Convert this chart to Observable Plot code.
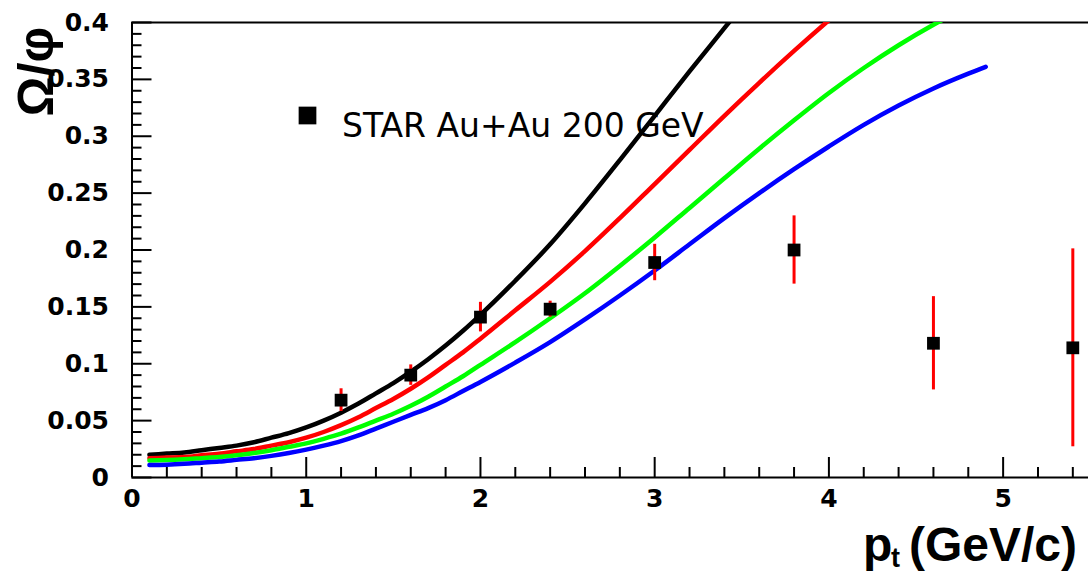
<!DOCTYPE html>
<html><head><meta charset="utf-8">
<script src="https://cdn.jsdelivr.net/npm/d3@7"></script>
<script src="https://cdn.jsdelivr.net/npm/@observablehq/plot@0.6"></script>
<style>html,body{margin:0;padding:0;background:#fff;} #chart{width:1088px;height:574px;}</style>
</head><body><div id="chart"></div>
<script>
// ---- data ----
const curvePt = [0.1,0.2,0.3,0.4,0.5,0.6,0.7,0.8,0.9,1.0,1.1,1.2,1.3,1.4,1.5,1.6,1.7,1.8,1.9,2.0,2.2,2.4,2.6,2.8,3.0,3.2,3.4,3.6,3.8,4.0,4.2,4.4,4.6,4.8,4.9];
const curveBlack = [0.020,0.021,0.022,0.024,0.026,0.028,0.031,0.035,0.039,0.044,0.050,0.057,0.065,0.074,0.083,0.093,0.104,0.116,0.129,0.143,0.173,0.205,0.241,0.279,0.318,0.357,0.395,0.433];
const curveRed   = [0.017,0.0175,0.018,0.0195,0.021,0.023,0.025,0.028,0.031,0.035,0.040,0.046,0.053,0.061,0.069,0.078,0.088,0.099,0.110,0.122,0.147,0.172,0.199,0.228,0.258,0.288,0.318,0.347,0.375,0.402,0.428];
const curveGreen = [0.015,0.0153,0.016,0.017,0.018,0.0195,0.0215,0.024,0.027,0.030,0.034,0.0385,0.044,0.050,0.056,0.063,0.071,0.080,0.089,0.099,0.119,0.140,0.162,0.186,0.211,0.237,0.263,0.289,0.314,0.338,0.360,0.380,0.398,0.414];
const curveBlue  = [0.011,0.0113,0.012,0.013,0.014,0.0155,0.017,0.019,0.0215,0.0245,0.028,0.032,0.037,0.043,0.049,0.055,0.061,0.068,0.076,0.084,0.101,0.119,0.139,0.160,0.182,0.205,0.228,0.250,0.271,0.291,0.310,0.327,0.342,0.355,0.361];

const starPt    = [1.2, 1.6, 2.0, 2.4, 3.0, 3.8, 4.6, 5.4];
const starRatio = [0.068, 0.090, 0.141, 0.148, 0.189, 0.200, 0.118, 0.114];
const starErr   = [0.010, 0.009, 0.013, 0.007, 0.016, 0.030, 0.041, 0.087];

const xTicks = [0, 1, 2, 3, 4, 5];
const xMinor = [0.2,0.4,0.6,0.8,1.2,1.4,1.6,1.8,2.2,2.4,2.6,2.8,3.2,3.4,3.6,3.8,4.2,4.4,4.6,4.8,5.2,5.4];
const yTicks = [0, 0.05, 0.1, 0.15, 0.2, 0.25, 0.3, 0.35, 0.4];
const yMinor = [0.01,0.02,0.03,0.04,0.06,0.07,0.08,0.09,0.11,0.12,0.13,0.14,0.16,0.17,0.18,0.19,0.21,0.22,0.23,0.24,0.26,0.27,0.28,0.29,0.31,0.32,0.33,0.34,0.36,0.37,0.38,0.39];

const legendLabel = "STAR Au+Au 200 GeV";
const yLabel = "Ω/φ";
const xLabelMain = "p";
const xLabelSub = "t";
const xLabelUnit = "(GeV/c)";

// ---- build tables ----
function curve(vals, name){ return vals.map((v,i)=>({pt: curvePt[i], v, name})); }
const curves = [
  {data: curve(curveBlack,"black"), color: "#000000"},
  {data: curve(curveRed,"red"), color: "#ff0000"},
  {data: curve(curveGreen,"green"), color: "#00ff00"},
  {data: curve(curveBlue,"blue"), color: "#0000ff"}
];
const star = starPt.map((pt,i)=>({pt, r: starRatio[i], lo: starRatio[i]-starErr[i], hi: starRatio[i]+starErr[i]}));

const width = 1088, height = 574;
const mL = 131.5, mR = 0, mT = 22, mB = 97;
const W = width - mL - mR, H = height - mT - mB;
const tickFont = "DejaVu Sans, sans-serif";
const titleFont = "Liberation Sans, Arial, sans-serif";

const plot = Plot.plot({
  width, height,
  marginLeft: mL, marginRight: mR, marginTop: mT, marginBottom: mB,
  style: {background: "white", color: "black"},
  x: {domain: [0, 5.49]},
  y: {domain: [0, 0.4]},
  marks: [
    Plot.ruleY([0.4], {stroke: "black", strokeWidth: 2}),
    Plot.tickY(yMinor, {y: d => d, stroke: "black", strokeWidth: 2, insetRight: W - 10}),
    Plot.tickY(yTicks, {y: d => d, stroke: "black", strokeWidth: 2, insetRight: W - 20}),
    Plot.tickX(xMinor, {x: d => d, stroke: "black", strokeWidth: 2, insetTop: H - 10}),
    Plot.tickX(xTicks, {x: d => d, stroke: "black", strokeWidth: 2, insetTop: H - 20}),
    ...curves.map(c => Plot.line(c.data, {x: "pt", y: "v", stroke: c.color, strokeWidth: 4.5, curve: "monotone-x", clip: true})),
    Plot.ruleX(star, {x: "pt", y1: "lo", y2: "hi", stroke: "#ff0000", strokeWidth: 3}),
    Plot.dot(star, {x: "pt", y: "r", symbol: "square", r: 7.2, fill: "black", stroke: "none"}),
    Plot.ruleX([0], {stroke: "black", strokeWidth: 2}),
    Plot.ruleY([0], {stroke: "black", strokeWidth: 2}),
    Plot.axisY(yTicks, {tickSize: 0, tickPadding: 23, label: null, fontSize: 25, fontWeight: "bold", fontFamily: tickFont, tickFormat: d => String(d)}),
    Plot.axisX(xTicks, {tickSize: 0, tickPadding: 12, label: null, fontSize: 25, fontWeight: "bold", fontFamily: tickFont, tickFormat: d => String(d)}),
    Plot.dot([legendLabel], {frameAnchor: "top-left", dx: 175.5, dy: 93, symbol: "square", r: 10, fill: "black"}),
    Plot.text([legendLabel], {frameAnchor: "top-left", dx: 210, dy: 104, textAnchor: "start", lineAnchor: "middle", fontSize: 33, fontFamily: "DejaVu Sans, sans-serif", fill: "black"}),
    Plot.text([yLabel], {frameAnchor: "top-left", dx: -95.5, dy: 94, rotate: -90, textAnchor: "start", lineAnchor: "middle", fontSize: 50, fontWeight: "bold", fontFamily: titleFont, fill: "black"}),
    Plot.text([xLabelMain], {frameAnchor: "bottom-left", dx: 731, dy: 68.5, textAnchor: "start", lineAnchor: "middle", fontSize: 48, fontWeight: "bold", fontFamily: titleFont, fill: "black"}),
    Plot.text([xLabelSub], {frameAnchor: "bottom-left", dx: 759, dy: 81, textAnchor: "start", lineAnchor: "middle", fontSize: 27, fontWeight: "bold", fontFamily: titleFont, fill: "black"}),
    Plot.text([xLabelUnit], {frameAnchor: "bottom-left", dx: 777, dy: 68.5, textAnchor: "start", lineAnchor: "middle", fontSize: 48, fontWeight: "bold", fontFamily: titleFont, fill: "black"})
  ]
});
document.getElementById("chart").appendChild(plot);
</script>
</body></html>
